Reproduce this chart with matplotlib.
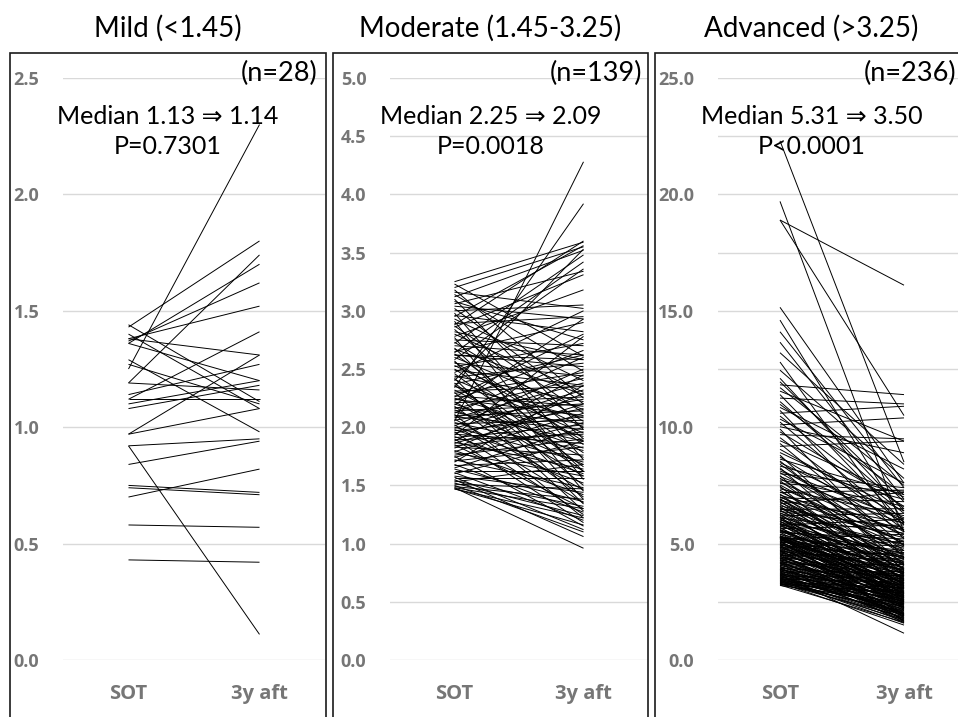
import numpy as np
import matplotlib
matplotlib.use('Agg')
import matplotlib.pyplot as plt
from matplotlib.patches import Rectangle
from matplotlib.ticker import MultipleLocator, FormatStrFormatter

plt.rcParams['font.family'] = ['Lato', 'DejaVu Sans']

W, H = 958, 717

# --- labels ---
cats = ['SOT', '3y aft']
titles = ['Mild (<1.45)', 'Moderate (1.45-3.25)', 'Advanced (>3.25)']
n_labels = ['(n=28)', '(n=139)', '(n=236)']
median_labels = ['Median 1.13 \u21d2 1.14', 'Median 2.25 \u21d2 2.09', 'Median 5.31 \u21d2 3.50']
p_labels = ['P=0.7301', 'P=0.0018', 'P<0.0001']

# --- Mild (n=28) ---
mild_sot = [1.25, 1.19, 1.43, 1.36, 1.37, 1.38, 1.12, 0.97, 1.38, 1.29,
            0.97, 0.92, 0.84, 0.92, 0.70, 0.75, 0.74, 0.58, 0.43, 1.14,
            1.10, 1.08, 1.12, 1.19, 1.27, 1.40, 1.36, 1.44]
mild_aft = [2.30, 1.74, 1.80, 1.70, 1.62, 1.52, 1.41, 1.31, 1.31, 0.98,
            1.08, 0.95, 0.94, 0.11, 0.82, 0.72, 0.71, 0.57, 0.42, 1.27,
            1.20, 1.18, 1.12, 1.16, 1.10, 1.08, 1.20, 1.11]

# --- Moderate (n=139) ---
mod_sot = [3.25, 3.23, 3.20, 3.18, 3.16, 3.14, 3.12, 3.10, 3.08, 3.06,
           3.04, 3.02, 3.00, 2.98, 2.96, 2.95, 2.93, 2.91, 2.89, 2.87,
           2.86, 2.84, 2.82, 2.80, 2.78, 2.77, 2.75, 2.73, 2.72, 2.70,
           2.68, 2.67, 2.65, 2.63, 2.62, 2.60, 2.58, 2.57, 2.55, 2.53,
           2.52, 2.50, 2.49, 2.47, 2.46, 2.44, 2.43, 2.41, 2.40, 2.38,
           2.37, 2.35, 2.34, 2.32, 2.31, 2.30, 2.29, 2.27, 2.26, 2.25,
           2.24, 2.23, 2.22, 2.21, 2.20, 2.19, 2.18, 2.17, 2.16, 2.15,
           2.14, 2.13, 2.12, 2.11, 2.10, 2.09, 2.08, 2.07, 2.06, 2.05,
           2.04, 2.03, 2.02, 2.01, 2.00, 1.99, 1.98, 1.97, 1.96, 1.95,
           1.94, 1.93, 1.92, 1.91, 1.90, 1.89, 1.88, 1.87, 1.86, 1.85,
           1.84, 1.83, 1.82, 1.80, 1.79, 1.78, 1.76, 1.75, 1.74, 1.72,
           1.71, 1.70, 1.68, 1.67, 1.65, 1.64, 1.62, 1.61, 1.60, 1.58,
           1.57, 1.56, 1.55, 1.54, 1.53, 1.52, 1.51, 1.50, 1.49, 1.48,
           1.48, 1.47, 1.47, 2.88, 2.64, 2.36, 2.42, 2.62, 2.56]
mod_aft = [3.59, 2.61, 3.55, 2.25, 3.02, 2.48, 3.52, 1.98, 2.75, 3.34,
           2.93, 2.20, 3.05, 1.72, 2.82, 3.56, 2.40, 1.55, 2.95, 2.12,
           3.31, 1.90, 2.58, 2.30, 3.18, 1.45, 2.70, 2.05, 3.48, 2.62,
           1.62, 2.28, 2.90, 1.85, 2.52, 2.15, 3.36, 1.38, 2.44, 2.00,
           2.72, 1.78, 2.36, 3.00, 1.66, 2.22, 2.55, 1.95, 3.53, 1.50,
           2.62, 2.08, 3.92, 1.74, 2.35, 1.28, 2.47, 2.18, 2.80, 1.92,
           2.10, 2.66, 1.58, 2.26, 1.82, 2.93, 1.40, 2.03, 2.42, 1.68,
           2.20, 1.88, 2.60, 1.22, 2.14, 1.98, 2.38, 1.46, 2.24, 4.28,
           1.80, 2.06, 1.35, 2.50, 1.70, 2.32, 1.60, 2.09, 1.25, 2.16,
           1.86, 2.78, 1.52, 2.02, 1.18, 1.94, 2.45, 1.64, 2.20, 1.30,
           1.96, 1.76, 2.29, 1.42, 2.12, 1.58, 1.90, 1.15, 2.04, 1.48,
           1.83, 2.36, 1.27, 1.72, 2.00, 1.36, 1.62, 1.20, 1.88, 1.44,
           1.12, 1.56, 1.06, 1.32, 1.68, 1.24, 1.47, 1.10, 1.38, 0.96,
           1.30, 1.16, 1.22, 3.60, 3.42, 1.62, 1.34, 2.58, 1.88]

# --- Advanced (n=236) ---
adv_sot = [3.20, 3.22, 3.25, 3.26, 3.28, 3.29, 3.31, 3.33, 3.34, 3.36,
           3.37, 3.38, 3.41, 3.42, 3.44, 3.46, 3.47, 3.49, 3.51, 3.52,
           3.54, 3.56, 3.57, 3.59, 3.61, 3.62, 3.64, 3.66, 3.68, 3.69,
           3.71, 3.73, 3.75, 3.77, 3.78, 3.81, 3.83, 3.85, 3.86, 3.89,
           3.91, 3.92, 3.94, 3.96, 3.99,
           4.01, 4.02, 4.06, 4.08, 4.09, 4.13, 4.15, 4.16, 4.19, 4.21,
           4.22, 4.26, 4.28, 4.29, 4.32, 4.34, 4.37, 4.38, 4.40, 4.43,
           4.44, 4.46, 4.49, 4.52, 4.53, 4.56, 4.58, 4.60, 4.62, 4.65,
           4.66, 4.69, 4.71, 4.72, 4.75, 4.78, 4.79, 4.81, 4.84, 4.86,
           4.87, 4.90, 4.92, 4.94, 4.96, 4.99, 5.00, 5.02, 5.05, 5.06,
           5.08, 5.11, 5.12, 5.14, 5.17, 5.18, 5.20, 5.21, 5.23, 5.24,
           5.25, 5.26, 5.27, 5.27, 5.28, 5.29, 5.29, 5.30, 5.30, 5.31,
           5.33, 5.35, 5.40, 5.41, 5.47, 5.49, 5.52, 5.56, 5.58, 5.61,
           5.64, 5.68, 5.70, 5.74, 5.77, 5.79, 5.83, 5.86, 5.88, 5.92,
           5.95, 5.97, 6.01, 6.03, 6.07, 6.10, 6.12, 6.16, 6.19, 6.23,
           6.26, 6.30, 6.33, 6.38, 6.41, 6.45, 6.47, 6.53, 6.55, 6.61,
           6.63, 6.69, 6.71, 6.77, 6.82, 6.85, 6.89, 6.93, 6.97, 6.99,
           5.55, 5.82, 6.14, 6.48, 6.91,
           7.02, 7.08, 7.13, 7.19, 7.22, 7.30, 7.35, 7.41, 7.47, 7.52,
           7.58, 7.63, 7.70, 7.74, 7.81, 7.88, 7.92, 8.00, 8.05, 8.12,
           8.20, 8.26, 8.33, 8.41, 8.48, 8.55, 8.63, 8.72, 8.80, 8.91,
           9.05, 9.18, 9.30, 9.42, 9.55, 9.68, 9.80, 9.92, 10.02, 10.10,
           10.22, 10.35, 10.48, 10.60, 10.72, 10.85, 10.98, 11.10, 11.25, 11.40,
           11.55, 11.70, 11.82, 11.95,
           12.10, 12.45, 12.80, 13.20, 13.65, 14.10, 14.60, 15.15,
           22.30, 19.70, 18.90, 18.90]
adv_aft = [2.45, 1.62, 2.10, 2.88, 1.85, 2.30, 1.50, 2.62, 2.02, 3.10,
           1.72, 2.40, 1.95, 2.75, 1.58, 2.20, 3.35, 1.80, 2.55, 2.12,
           1.66, 2.92, 2.25, 1.90, 3.50, 2.05, 2.68, 1.15, 2.35, 3.05,
           1.78, 2.50, 2.15, 3.80, 1.98, 2.82, 2.28, 1.70, 3.22, 2.60,
           2.00, 2.42, 3.60, 1.88, 2.72,
           2.60, 1.95, 3.20, 2.35, 4.10, 2.80, 1.75, 3.05, 2.50, 3.65,
           2.15, 2.90, 1.60, 3.40, 2.70, 4.35, 2.25, 3.10, 1.88, 2.95,
           3.55, 2.40, 4.60, 2.05, 3.25, 2.85, 1.70, 3.75, 2.55, 3.00,
           4.20, 2.30, 3.45, 1.98, 2.75, 3.90, 2.45, 5.10, 3.15, 2.20,
           3.60, 2.65, 4.45, 1.82, 3.30, 2.90, 3.85, 2.35, 4.90, 3.05,
           2.58, 3.70, 1.92, 4.15, 3.35, 2.78, 5.40, 3.10, 2.48, 4.00,
           3.50, 2.25, 4.70, 3.20, 2.68, 3.95, 1.65, 4.40, 3.28, 2.85,
           3.60, 2.40, 4.25, 3.05, 5.20, 2.70, 3.85, 4.60, 2.95, 3.40,
           5.80, 3.15, 2.55, 4.45, 3.70, 6.05, 2.85, 4.10, 3.30, 5.00,
           3.55, 2.65, 4.80, 3.95, 2.90, 5.45, 3.25, 4.35, 6.30, 3.75,
           2.60, 4.95, 3.50, 5.70, 4.15, 3.10, 6.50, 3.90, 4.70, 2.75,
           5.25, 3.65, 7.20, 4.40, 3.20, 5.90, 4.05, 3.45, 6.80, 5.10,
           3.80, 4.55, 2.50, 5.60, 4.20,
           4.30, 5.60, 3.40, 7.30, 4.85, 3.75, 6.20, 5.05, 2.95, 4.60,
           7.25, 5.40, 3.90, 6.60, 4.50, 5.85, 3.30, 7.40, 4.95, 6.05,
           5.30, 3.60, 6.90, 4.70, 5.95, 4.10, 7.10, 5.50, 3.85, 6.40,
           6.10, 9.40, 4.90, 7.00, 5.60, 9.50, 6.60, 4.40, 8.90, 10.40,
           5.80, 7.60, 6.30, 10.90, 5.20, 8.20, 7.10, 6.50, 11.00, 5.90,
           9.40, 7.50, 11.40, 6.80,
           6.40, 7.80, 5.50, 8.40, 6.90, 7.40, 5.90, 7.60,
           8.50, 5.50, 16.10, 10.50]

panels = [
    (mild_sot, mild_aft, 2.5, 0.5, 0.5),
    (mod_sot, mod_aft, 5.0, 0.5, 0.5),
    (adv_sot, adv_aft, 25.0, 5.0, 2.5),
]

# pixel layout: plot area x-range, outer box x-range
plot_x = [(63, 325), (390, 648), (718, 966)]
box_x = [(10, 326), (333, 648), (655, 975)]
n_right = [317, 642, 956]
y_top, y_zero = 78, 660

fig = plt.figure(figsize=(W / 100, H / 100), dpi=100)

tick_grey = '#767676'
tick_font = ['Open Sans', 'DejaVu Sans']

for i, (sot, aft, ymax, major, minor) in enumerate(panels):
    x0, x1 = plot_x[i]
    ax = fig.add_axes([x0 / W, 1 - y_zero / H, (x1 - x0) / W, (y_zero - y_top) / H])
    ax.plot([0, 1], np.vstack([sot, aft]), color='black', lw=0.7, solid_capstyle='butt')
    ax.set_xlim(-0.5, 1.5)
    ax.set_ylim(0, ymax)
    ax.set_xticks([0, 1])
    ax.set_xticklabels(cats)
    ax.yaxis.set_major_locator(MultipleLocator(major))
    ax.yaxis.set_minor_locator(MultipleLocator(minor))
    ax.yaxis.set_major_formatter(FormatStrFormatter('%.1f'))
    ax.grid(axis='y', which='both', color='#d9d9d9', lw=1.0, zorder=0)
    ax.set_axisbelow(True)
    for s in ax.spines.values():
        s.set_visible(False)
    ax.tick_params(axis='both', which='both', length=0)
    ax.tick_params(axis='y', pad=17, labelsize=13, labelcolor=tick_grey)
    ax.tick_params(axis='x', pad=17, labelsize=14.5, labelcolor=tick_grey)
    for lab in ax.get_xticklabels() + ax.get_yticklabels():
        lab.set_fontfamily(tick_font)
        lab.set_fontweight('bold')

    bx0, bx1 = box_x[i]
    fig.patches.append(Rectangle((bx0 / W, -0.05), (bx1 - bx0) / W, 0.05 + 1 - 53 / H,
                                 transform=fig.transFigure, fill=False,
                                 edgecolor='#1a1a1a', lw=1.2, zorder=5))
    cx = (bx0 + min(bx1, 968)) / 2 / W
    fig.text(cx, 1 - 28 / H, titles[i], ha='center', va='center', fontsize=20)
    fig.text(n_right[i] / W, 1 - 73 / H, n_labels[i], ha='right', va='center', fontsize=19.5)
    fig.text(cx, 1 - 117 / H, median_labels[i], ha='center', va='center', fontsize=18)
    fig.text(cx, 1 - 147 / H, p_labels[i], ha='center', va='center', fontsize=18)

fig.savefig('out.png', dpi=100)
